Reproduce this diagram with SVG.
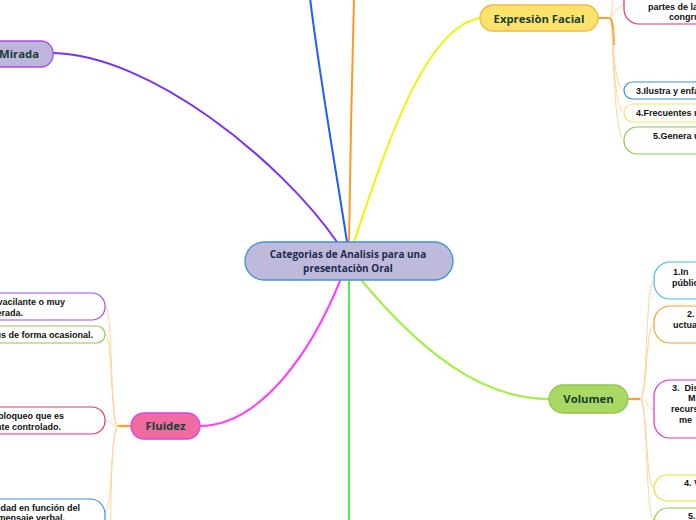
<svg xmlns="http://www.w3.org/2000/svg" width="696" height="520" viewBox="0 0 696 520">
<style>
.main{fill:none;stroke-width:2;stroke-linecap:round}
.stem{fill:none;stroke:#f9a030;stroke-width:2.2}
.br{fill:none;stroke:#ffd49a;stroke-width:1}
.node text{font-family:"Open Sans","Noto Sans",sans-serif;font-weight:bold;font-size:11.3px;fill:#173f33;text-anchor:middle}
.leaf rect{fill:#fff;stroke-width:1.2}
.leaf text{font-family:"Liberation Sans",Arial,sans-serif;font-weight:bold;font-size:9px;fill:#111;white-space:pre}
.le text{text-anchor:end}
</style>
<rect width="696" height="520" fill="#fff"/>
<g id="connectors">
<path class="main" stroke="#7b2ff7" stroke-width="1.5" d="M53,53 C150,55 280,160 337,242"/>
<path class="main" stroke="#1f5cff" d="M347,242 C336,170 320,80 310,-2"/>
<path class="main" stroke="#ff9a1f" d="M349,242 C350,160 352,80 354,-2"/>
<path class="main" stroke="#f2f20a" d="M354,242 C385,150 425,25 481,18"/>
<path class="main" stroke="#ff3cff" d="M340,281 C312,350 262,425 200,426"/>
<path class="main" stroke="#4ef04e" d="M349,281 L349,522"/>
<path class="main" stroke="#a0f03c" d="M362,281 C420,350 480,399 549,399"/>
<path class="stem" d="M598,18 L609,18 C613,18 613,30 614,45"/>
<path class="br" stroke="#f5f070" d="M610,18 C612,12 612,6 613,-1"/>
<path class="br" d="M610,18 C614,14 618,5 625,5"/>
<path class="br" d="M612,30 C614,60 616,90 625,90"/>
<path class="br" d="M612,30 C614,70 616,113 625,113"/>
<path class="br" d="M612,30 C614,80 616,140 625,140"/>
<path class="stem" d="M131,426 L118,426"/>
<path class="br" d="M118,426 C110,426 113,306 105,306"/>
<path class="br" d="M118,426 C110,426 113,334 105,334"/>
<path class="br" d="M118,426 C112,426 112,421 105,421"/>
<path class="br" d="M118,426 C110,426 113,512 105,512"/>
<path class="br" d="M118,426 C110,440 112,500 110,522"/>
<path class="stem" d="M628,399 L640,399"/>
<path class="br" d="M640,399 C648,399 645,281 654,281"/>
<path class="br" d="M640,399 C648,399 645,325 654,325"/>
<path class="br" d="M640,399 C647,399 647,409 654,409"/>
<path class="br" d="M640,399 C648,399 645,488 654,488"/>
<path class="br" d="M640,399 C648,399 645,516 654,520"/>
</g>
<g id="center" class="node">
<rect x="245" y="242" width="208" height="38" rx="19" fill="#bfbadb" stroke="#3d94d6" stroke-width="1.3"/>
<text x="348" y="258" style="font-size:10px;fill:#1e2b50">Categorias de Analisis para una</text>
<text x="348" y="272" style="font-size:10px;fill:#1e2b50">presentaciòn Oral</text>
</g>
<g id="mirada" class="node">
<rect x="-40" y="41" width="93" height="26" rx="12" fill="#bdb5dc" stroke="#a64bf4" stroke-width="1.3"/>
<text x="19" y="58">Mirada</text>
</g>
<g id="expresion" class="node">
<rect x="480" y="5" width="118" height="26" rx="13" fill="#fde36b" stroke="#f5b546" stroke-width="1.3"/>
<text x="539" y="23">Expresiòn Facial</text>
</g>
<g id="fluidez" class="node">
<rect x="131" y="413" width="69" height="26" rx="13" fill="#f06ba0" stroke="#e43fe5" stroke-width="1.3"/>
<text x="165.5" y="430">Fluidez</text>
</g>
<g id="volumen" class="node">
<rect x="549" y="385" width="79" height="28" rx="14" fill="#a9d863" stroke="#8dc84f" stroke-width="1.3"/>
<text x="588.5" y="403">Volumen</text>
</g>
<g id="ef1" class="leaf"><rect x="624" y="-20" width="100" height="44" rx="15" stroke="#e8336a"/><text x="648" y="10">partes de la</text><text x="669" y="20">congru</text></g>
<g id="ef3" class="leaf"><rect x="624" y="82" width="100" height="17" rx="8.5" stroke="#3a8ee0"/><text x="636" y="93.5">3.Ilustra y enfa</text></g>
<g id="ef4" class="leaf"><rect x="624" y="104" width="100" height="18" rx="9" stroke="#f5e663"/><text x="636" y="116">4.Frecuentes m</text></g>
<g id="ef5" class="leaf"><rect x="624" y="127" width="100" height="27" rx="13" stroke="#8cc850"/><text x="653" y="138.5">5.Genera u</text></g>
<g id="fl1" class="leaf le"><rect x="-60" y="293" width="165" height="27" rx="13" stroke="#a64bf4"/><text x="65" y="304.5">vacilante o muy</text><text x="23" y="315.5">erada.</text></g>
<g id="fl2" class="leaf le"><rect x="-60" y="326" width="165" height="17" rx="8.5" stroke="#8cc850"/><text x="93" y="337.5">us de forma ocasional.</text></g>
<g id="fl3" class="leaf le"><rect x="-60" y="407" width="165" height="27" rx="13" stroke="#e8336a"/><text x="64" y="419">bloqueo que es</text><text x="61" y="429.5">nte controlado.</text></g>
<g id="fl4" class="leaf le"><rect x="-60" y="499" width="165" height="35" rx="15" stroke="#3a8ee0"/><text x="80" y="510.5">idad en función del</text><text x="65" y="521">mensaje verbal.</text></g>
<g id="v1" class="leaf"><rect x="654" y="262" width="100" height="37" rx="16" stroke="#4ab8f0"/><text x="673" y="274.5">1.In</text><text x="672" y="285.5">públic</text></g>
<g id="v2" class="leaf"><rect x="654" y="306" width="100" height="37" rx="16" stroke="#f5a030"/><text x="687" y="316.5">2.</text><text x="673" y="327.5">uctua</text></g>
<g id="v3" class="leaf"><rect x="654" y="380" width="100" height="58" rx="16" stroke="#e030c0"/><text x="672" y="390.5" xml:space="preserve">3.  Dis</text><text x="688" y="401">M</text><text x="671" y="412">recurs</text><text x="679" y="422.5">me</text></g>
<g id="v4" class="leaf"><rect x="654" y="475" width="100" height="26" rx="13" stroke="#e8e030"/><text x="684" y="485.5">4. V</text></g>
<g id="v5" class="leaf"><rect x="654" y="508" width="100" height="30" rx="14" stroke="#8cc850"/><text x="688" y="519">5.</text></g>
</svg>
